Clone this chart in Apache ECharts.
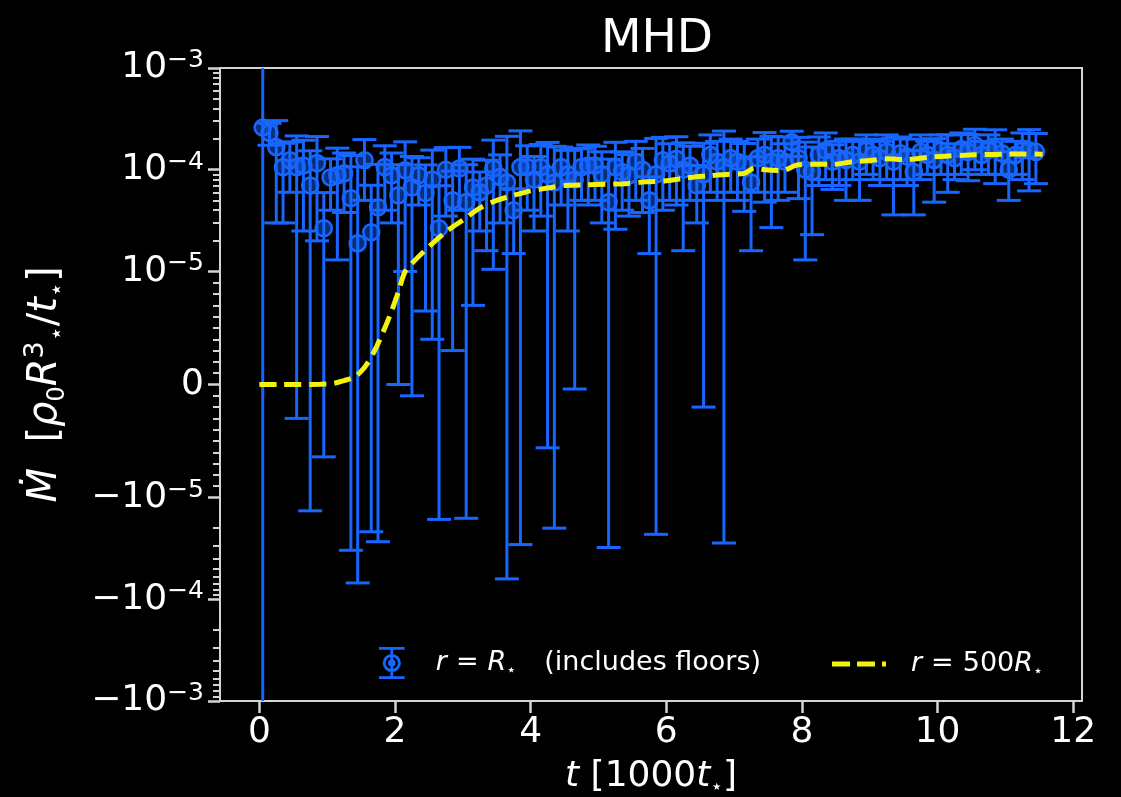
<!DOCTYPE html>
<html>
<head>
<meta charset="utf-8">
<script src="https://cdn.jsdelivr.net/npm/echarts@6/dist/echarts.min.js"></script>
<style>
  html, body { margin: 0; padding: 0; background: #000; }
  #chart { width: 1121px; height: 797px; }
</style>
</head>
<body>
<div id="chart"></div>
<script>
// Accretion rate through the stellar surface (with floors), sampled every 100 t*
const tSample = [
  0.05, 0.15, 0.25, 0.35, 0.45, 0.55, 0.65, 0.75, 0.85, 0.95,
  1.05, 1.15, 1.25, 1.35, 1.45, 1.55, 1.65, 1.75, 1.85, 1.95,
  2.05, 2.15, 2.25, 2.35, 2.45, 2.55, 2.65, 2.75, 2.85, 2.95,
  3.05, 3.15, 3.25, 3.35, 3.45, 3.55, 3.65, 3.75, 3.85, 3.95,
  4.05, 4.15, 4.25, 4.35, 4.45, 4.55, 4.65, 4.75, 4.85, 4.95,
  5.05, 5.15, 5.25, 5.35, 5.45, 5.55, 5.65, 5.75, 5.85, 5.95,
  6.05, 6.15, 6.25, 6.35, 6.45, 6.55, 6.65, 6.75, 6.85, 6.95,
  7.05, 7.15, 7.25, 7.35, 7.45, 7.55, 7.65, 7.75, 7.85, 7.95,
  8.05, 8.15, 8.25, 8.35, 8.45, 8.55, 8.65, 8.75, 8.85, 8.95,
  9.05, 9.15, 9.25, 9.35, 9.45, 9.55, 9.65, 9.75, 9.85, 9.95,
  10.05, 10.15, 10.25, 10.35, 10.45, 10.55, 10.65, 10.75, 10.85, 10.95,
  11.05, 11.15, 11.25, 11.35, 11.45
];
const mdotInner = [
  26e-5, 23e-5, 16.7e-5, 10.6e-5, 12.4e-5, 10.6e-5, 11e-5, 7.0e-5, 11.6e-5, 2.66e-5,
  8.4e-5, 8.8e-5, 9.2e-5, 5.25e-5, 1.89e-5, 12.4e-5, 2.43e-5, 4.28e-5, 10.6e-5, 8.8e-5,
  5.6e-5, 9.9e-5, 6.7e-5, 8.8e-5, 5.9e-5, 8.0e-5, 2.66e-5, 10.0e-5, 5.0e-5, 10.3e-5,
  4.8e-5, 6.7e-5, 6.0e-5, 7.0e-5, 10.3e-5, 8.5e-5, 7.5e-5, 4.0e-5, 10.6e-5, 10.6e-5,
  8.0e-5, 10.6e-5, 9.0e-5, 7.5e-5, 10.6e-5, 9.0e-5, 8.0e-5, 10.6e-5, 11.0e-5, 11.0e-5,
  9.0e-5, 4.8e-5, 10.6e-5, 9.5e-5, 8.8e-5, 12.0e-5, 10.0e-5, 5.0e-5, 9.0e-5, 12.4e-5,
  11.5e-5, 12.8e-5, 10.0e-5, 11.0e-5, 7.0e-5, 9.0e-5, 14.0e-5, 12.0e-5, 10.6e-5, 13.0e-5,
  12.0e-5, 11.0e-5, 7.5e-5, 13.0e-5, 14.0e-5, 12.0e-5, 13.0e-5, 12.0e-5, 18.7e-5, 13.0e-5,
  10.0e-5, 9.5e-5, 14.0e-5, 15.5e-5, 12.0e-5, 13.0e-5, 12.5e-5, 14.0e-5, 12.0e-5, 15.5e-5,
  14.0e-5, 13.0e-5, 15.0e-5, 12.0e-5, 14.5e-5, 13.5e-5, 9.5e-5, 15.0e-5, 14.0e-5, 12.5e-5,
  15.5e-5, 14.0e-5, 13.0e-5, 16.0e-5, 15.0e-5, 17.5e-5, 14.0e-5, 15.5e-5, 16.0e-5, 14.5e-5,
  10.0e-5, 14.0e-5, 15.5e-5, 15.5e-5, 15.0e-5
];
const mdotInnerErr = [
  300e-5, 5.6e-5, 13.7e-5, 7.6e-5, 6.4e-5, 10.9e-5, 8.5e-5, 8.35e-5, 9.6e-5, 3.3e-5,
  4.4e-5, 7.5e-5, 5.4e-5, 8.55e-5, 8.8e-5, 7.4e-5, 4.6e-5, 7.0e-5, 6.6e-5, 5.8e-5,
  5.6e-5, 8.9e-5, 6.8e-5, 4.3e-5, 5.25e-5, 7.6e-5, 4.3e-5, 6.5e-5, 4.7e-5, 6.3e-5,
  6.4e-5, 6.0e-5, 3.5e-5, 5.4e-5, 9.25e-5, 5.5e-5, 13.8e-5, 2.5e-5, 13.5e-5, 6.6e-5,
  5.5e-5, 7.1e-5, 9.56e-5, 9.5e-5, 6.1e-5, 6.5e-5, 8.04e-5, 5.6e-5, 6.5e-5, 6.0e-5,
  6.0e-5, 7.9e-5, 8.0e-5, 5.5e-5, 5.3e-5, 7.0e-5, 6.2e-5, 3.5e-5, 11.3e-5, 8.4e-5,
  6.5e-5, 8.3e-5, 8.4e-5, 6.0e-5, 4.0e-5, 9.2e-5, 8.0e-5, 7.0e-5, 13.4e-5, 7.0e-5,
  7.0e-5, 7.1e-5, 5.9e-5, 7.0e-5, 9.2e-5, 9.3e-5, 8.0e-5, 6.0e-5, 5.2e-5, 7.8e-5,
  8.7e-5, 7.2e-5, 7.0e-5, 7.5e-5, 5.6e-5, 6.0e-5, 7.5e-5, 6.0e-5, 7.0e-5, 6.5e-5,
  6.0e-5, 6.0e-5, 7.0e-5, 8.4e-5, 6.5e-5, 6.5e-5, 5.9e-5, 7.0e-5, 5.0e-5, 7.7e-5,
  6.5e-5, 8.0e-5, 5.0e-5, 7.0e-5, 7.2e-5, 7.5e-5, 5.0e-5, 6.5e-5, 8.7e-5, 5.5e-5,
  5.0e-5, 5.0e-5, 7.5e-5, 9.3e-5, 7.7e-5
];

// Accretion rate at r = 500 R*
const tOuter = [
  0, 0.3, 0.6, 0.9, 1.1, 1.25, 1.4, 1.55, 1.7, 1.85,
  1.95, 2.05, 2.15, 2.3, 2.5, 2.75, 3.0, 3.25, 3.5, 3.75,
  4.0, 4.25, 4.5, 4.8, 5.1, 5.4, 5.7, 6.0, 6.3, 6.6,
  6.9, 7.15, 7.3, 7.45, 7.7, 7.95, 8.2, 8.45, 8.75, 9.0,
  9.25, 9.55, 9.85, 10.1, 10.4, 10.7, 11.0, 11.3, 11.55
];
const mdotOuter = [
  0, 0, 0, 0.003e-5, 0.01e-5, 0.035e-5, 0.065e-5, 0.15e-5, 0.3e-5, 0.5e-5,
  0.65e-5, 0.82e-5, 1.0e-5, 1.3e-5, 1.75e-5, 2.45e-5, 3.2e-5, 4.2e-5, 5.0e-5, 5.6e-5,
  6.2e-5, 6.6e-5, 7.0e-5, 7.1e-5, 7.2e-5, 7.3e-5, 7.6e-5, 7.8e-5, 8.3e-5, 8.7e-5,
  9.0e-5, 9.2e-5, 10.4e-5, 10.0e-5, 9.8e-5, 11.2e-5, 11.3e-5, 11.3e-5, 12.0e-5, 12.3e-5,
  12.8e-5, 12.6e-5, 13.2e-5, 13.6e-5, 13.9e-5, 14.1e-5, 14.2e-5, 14.3e-5, 14.2e-5
];

const xTicks = [0, 2, 4, 6, 8, 10, 12];
const yTicks = [-1e-3, -1e-4, -1e-5, 0, 1e-5, 1e-4, 1e-3];
const yTickLabels = [
  '{b|−10}{s|−3}', '{b|−10}{s|−4}', '{b|−10}{s|−5}', '{b|0}',
  '{b|10}{s|−5}', '{b|10}{s|−4}', '{b|10}{s|−3}'
];

const BLUE = '#1766ff';
const YELLOW = '#f2f20c';
const FONT = 'DejaVu Sans';

// Symmetric log scale (linear within ±1e-5, base 10 outside)
const LINTHRESH = 1e-5;
const LINSCALE = 1 / (1 - 1 / 10);
function symlog(v) {
  const a = Math.abs(v) / LINTHRESH;
  const s = a <= 1 ? a * LINSCALE : LINSCALE + Math.log10(a);
  return v < 0 ? -s : s;
}
const Y_MAX = symlog(1e-3);

// minor tick positions of the symlog axis
const minorTicks = [];
for (let k = 1; k <= 9; k++) { minorTicks.push(k * 1e-6, -k * 1e-6); }
for (const d of [1e-5, 1e-4]) {
  for (let k = 2; k <= 9; k++) { minorTicks.push(k * d, -k * d); }
}

const errData = tSample.map((t, i) => [
  t, symlog(mdotInner[i] - mdotInnerErr[i]), symlog(mdotInner[i] + mdotInnerErr[i])
]);
const markerData = tSample.map((t, i) => [t, symlog(mdotInner[i])]);
const outerData = tOuter.map((t, i) => [t, symlog(mdotOuter[i])]);

const chart = echarts.init(document.getElementById('chart'), null, { renderer: 'canvas' });

const tickRich = {
  b: { fontSize: 36, lineHeight: 40, color: '#fff', fontFamily: FONT },
  s: { fontSize: 25, lineHeight: 20, verticalAlign: 'top', color: '#fff', fontFamily: FONT }
};

const legendRich = {
  i: { fontStyle: 'italic', fontSize: 27, fontFamily: FONT, color: '#fff', lineHeight: 32 },
  eq: { fontSize: 27, fontFamily: FONT, color: '#fff', lineHeight: 32, padding: [0, 9, 0, 9] },
  sub: { fontSize: 16, fontFamily: FONT, color: '#fff', verticalAlign: 'bottom', lineHeight: 20 }
};

const option = {
  backgroundColor: '#000',
  animation: false,
  title: {
    text: 'MHD',
    left: 652,
    top: 11,
    textAlign: 'center',
    textStyle: { color: '#fff', fontSize: 47, fontWeight: 'normal', fontFamily: FONT }
  },
  grid: {
    left: 220, right: 39, top: 68, bottom: 96,
    outerBoundsMode: 'none',
    containLabel: false,
    show: true, borderColor: '#d4d4d4', borderWidth: 2, backgroundColor: 'transparent'
  },
  xAxis: {
    type: 'value',
    min: -0.58, max: 12.13,
    axisLine: { show: false, onZero: false },
    splitLine: { show: false },
    axisTick: { show: true, customValues: xTicks, length: 12, lineStyle: { color: '#d4d4d4', width: 2.5 } },
    axisLabel: {
      customValues: xTicks, color: '#fff', fontSize: 36, fontFamily: FONT, margin: 14
    },
    name: '{i|t} [1000{i|t}{sub|⋆}]',
    nameLocation: 'middle',
    nameGap: 52,
    nameTextStyle: {
      color: '#fff', fontSize: 36, fontFamily: FONT, lineHeight: 42,
      rich: {
        i: { fontStyle: 'italic', fontSize: 36, fontFamily: FONT, color: '#fff', lineHeight: 42 },
        sub: { fontSize: 20, fontFamily: FONT, color: '#fff', verticalAlign: 'bottom', lineHeight: 22 }
      }
    }
  },
  yAxis: [{
    type: 'value',
    min: -Y_MAX, max: Y_MAX,
    axisLine: { show: false, onZero: false },
    splitLine: { show: false },
    axisTick: { show: true, customValues: yTicks.map(symlog), length: 12, lineStyle: { color: '#d4d4d4', width: 2.5 } },
    axisLabel: {
      customValues: yTicks.map(symlog),
      margin: 16,
      formatter: (val) => {
        const idx = yTicks.findIndex(v => Math.abs(symlog(v) - val) < 1e-6);
        return idx >= 0 ? yTickLabels[idx] : '';
      },
      rich: tickRich
    },
    name: '{i|Ṁ}  [{i|ρ}{sub|0}{i|R}{sup|3}{sub|⋆}/{i|t}{sub|⋆}]',
    nameLocation: 'middle',
    nameRotate: 90,
    nameGap: 150,
    nameTextStyle: {
      color: '#fff', fontSize: 40, fontFamily: FONT, lineHeight: 48,
      rich: {
        i: { fontStyle: 'italic', fontSize: 40, fontFamily: FONT, color: '#fff', lineHeight: 48 },
        sub: { fontSize: 24, fontFamily: FONT, color: '#fff', verticalAlign: 'bottom', lineHeight: 26 },
        sup: { fontSize: 27, fontFamily: FONT, color: '#fff', verticalAlign: 'top', lineHeight: 24 }
      }
    }
  }, {
    type: 'value',
    min: -Y_MAX, max: Y_MAX,
    position: 'left',
    axisLine: { show: false, onZero: false },
    splitLine: { show: false },
    axisLabel: { show: false },
    axisTick: { show: true, customValues: minorTicks.map(symlog), length: 7, lineStyle: { color: '#d4d4d4', width: 2 } }
  }],
  legend: [{
    left: 374, top: 642,
    itemWidth: 26, itemHeight: 32,
    selectedMode: false,
    data: [{
      name: 'inner',
      icon: 'path://M0,0H24V2.6H0Z M10.7,0H13.3V30H10.7Z M0,27.4H24V30H0Z M20.5,15A8.5,8.5 0 1 1 3.5,15A8.5,8.5 0 1 1 20.5,15Z M17.8,15A5.8,5.8 0 1 0 6.2,15A5.8,5.8 0 1 0 17.8,15Z M15.5,15A3.5,3.5 0 1 1 8.5,15A3.5,3.5 0 1 1 15.5,15Z',
      itemStyle: { color: BLUE, borderWidth: 0 }
    }],
    formatter: () => '{gap|}{i|r}{eq|=}{i|R}{sub|⋆}{gap2|}(includes floors)',
    textStyle: {
      color: '#fff', fontSize: 27, fontFamily: FONT, lineHeight: 32,
      rich: Object.assign({ gap: { width: 26 }, gap2: { width: 28 } }, legendRich)
    }
  }, {
    left: 827, top: 643,
    itemWidth: 54, itemHeight: 5,
    selectedMode: false,
    data: [{
      name: 'outer',
      icon: 'path://M0,0H18V5H0Z M25,0H43V5H25Z M50,0H54V5H50Z',
      itemStyle: { color: YELLOW, borderWidth: 0 }
    }],
    formatter: () => '{gap|}{i|r}{eq|=}500{i|R}{sub|⋆}',
    textStyle: {
      color: '#fff', fontSize: 27, fontFamily: FONT, lineHeight: 32,
      rich: Object.assign({ gap: { width: 20 } }, legendRich)
    }
  }],
  series: [{
    type: 'custom',
    clip: true,
    z: 2,
    encode: { x: 0, y: [1, 2] },
    data: errData,
    renderItem: (params, api) => {
      const t = api.value(0);
      const lo = api.coord([t, api.value(1)]);
      const hi = api.coord([t, api.value(2)]);
      const cw = 12;
      const style = { stroke: BLUE, lineWidth: 3, fill: null };
      return {
        type: 'group',
        children: [
          { type: 'line', shape: { x1: lo[0], y1: lo[1], x2: hi[0], y2: hi[1] }, style },
          { type: 'line', shape: { x1: lo[0] - cw, y1: lo[1], x2: lo[0] + cw, y2: lo[1] }, style },
          { type: 'line', shape: { x1: hi[0] - cw, y1: hi[1], x2: hi[0] + cw, y2: hi[1] }, style }
        ]
      };
    }
  }, {
    name: 'inner',
    type: 'scatter',
    z: 3,
    symbol: 'circle',
    symbolSize: 16,
    itemStyle: { color: 'rgba(23,102,255,0.45)', borderColor: BLUE, borderWidth: 2.6, opacity: 1 },
    data: markerData
  }, {
    name: 'outer',
    type: 'line',
    z: 4,
    showSymbol: false,
    smooth: 0.3,
    lineStyle: { color: YELLOW, width: 5, type: [17, 8], cap: 'butt' },
    itemStyle: { color: YELLOW },
    data: outerData
  }]
};

chart.setOption(option);
</script>
</body>
</html>
